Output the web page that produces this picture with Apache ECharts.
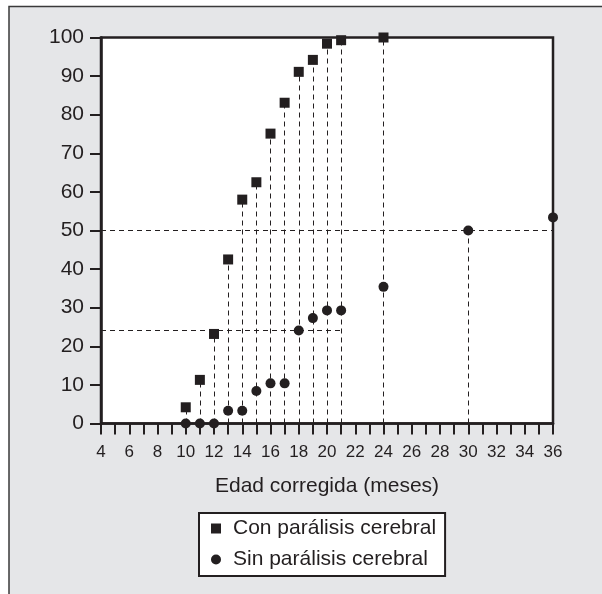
<!DOCTYPE html>
<html><head><meta charset="utf-8">
<script src="https://cdn.jsdelivr.net/npm/echarts@6/dist/echarts.min.js"></script>
<style>html,body{margin:0;padding:0;background:#fff}#c{width:602px;height:594px}</style>
</head><body><div id="c"></div>
<script>
// Data
const edadCon = [10,11,12,13,14,15,16,17,18,19,20,21,24];
const valCon  = [4.2,11.3,23.2,42.5,58,62.5,75.1,83.1,91.1,94.2,98.4,99.3,100];
const edadSin = [10,11,12,13,14,15,16,17,18,19,20,21,24,30,36];
const valSin  = [0,0,0,3.3,3.3,8.4,10.4,10.4,24.1,27.3,29.3,29.3,35.4,50,53.4];
const seriesNames = ['Con parálisis cerebral','Sin parálisis cerebral'];
const xTitle = 'Edad corregida (meses)';
// reference guides
const hGuides = [[4,36,50],[4,21,24.2]];   // [xFrom, xTo, y]
const vGuideSin = [[30,50]];               // [x, y]

const ink = '#231f20';
const font = 'Liberation Sans, Arial, Helvetica, sans-serif';
const dash = {color: ink, width: 1, type: [5,4], opacity: 1};

const mlData = [];
edadCon.forEach((x,i)=>mlData.push([{coord:[x,0]},{coord:[x,valCon[i]]}]));
vGuideSin.forEach(g=>mlData.push([{coord:[g[0],0]},{coord:[g[0],g[1]]}]));
hGuides.forEach(g=>mlData.push([{coord:[g[0],g[2]]},{coord:[g[1],g[2]]}]));

const chart = echarts.init(document.getElementById('c'));
chart.setOption({
  animation:false,
  backgroundColor:'#ffffff',
  graphic:[{type:'rect', z:-10, shape:{x:9,y:6.5,width:700,height:700},
    style:{fill:'#e5e6e8', stroke:'#3a3a3a', lineWidth:1.5}}],
  grid:{left:101,top:37.5,right:49,bottom:170.5,show:true,backgroundColor:'#ffffff',
    borderColor:ink,borderWidth:2.5},
  xAxis:{type:'value',min:4,max:36,interval:1,
    name:xTitle,nameLocation:'middle',nameGap:52,
    nameTextStyle:{fontFamily:font,fontSize:21,color:ink},
    axisLine:{lineStyle:{color:ink,width:2.5}},
    axisTick:{length:11,lineStyle:{color:ink,width:2}},
    axisLabel:{margin:20,fontFamily:font,fontSize:17,color:ink,
      formatter:v=>(v%2===0?String(v):'')},
    splitLine:{show:false}},
  yAxis:{type:'value',min:0,max:100,interval:10,
    axisLine:{lineStyle:{color:ink,width:2.5}},
    axisTick:{length:11,lineStyle:{color:ink,width:2}},
    axisLabel:{margin:17,fontFamily:font,fontSize:21,color:ink},
    splitLine:{show:false}},
  legend:{orient:'vertical',left:199,top:513,
    backgroundColor:'#ffffff',borderColor:ink,borderWidth:2,borderRadius:0,
    padding:[5,9,6,12],itemGap:10,itemWidth:10,itemHeight:10,
    textStyle:{fontFamily:font,fontSize:21,color:ink,padding:[0,0,0,7]},
    data:seriesNames},
  series:[
    {name:'guides',type:'line',data:[],silent:true,
      markLine:{silent:true,symbol:'none',label:{show:false},lineStyle:dash,data:mlData,z:1}},
    {name:seriesNames[0],type:'scatter',symbol:'rect',symbolSize:10,clip:false,z:5,
      itemStyle:{color:ink,opacity:1},data:edadCon.map((x,i)=>[x,valCon[i]])},
    {name:seriesNames[1],type:'scatter',symbol:'circle',symbolSize:10,clip:false,z:5,
      itemStyle:{color:ink,opacity:1},data:edadSin.map((x,i)=>[x,valSin[i]])}
  ]
});
</script></body></html>
